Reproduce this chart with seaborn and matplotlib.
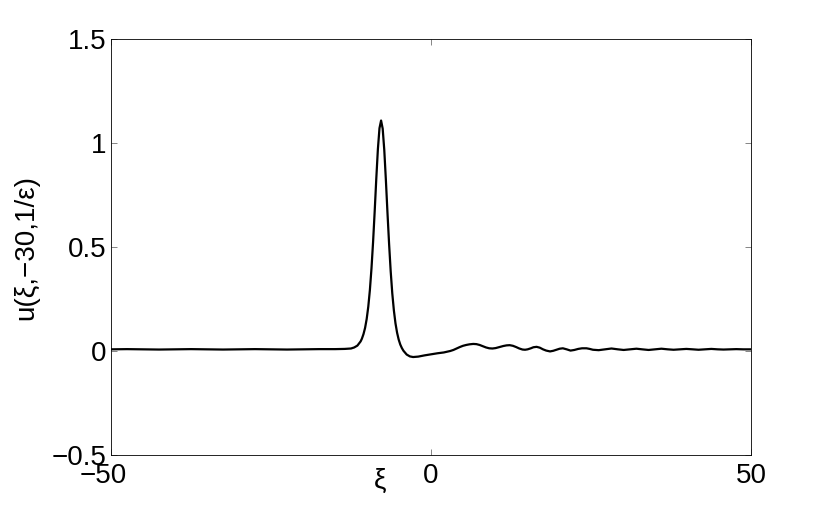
import matplotlib
matplotlib.use("Agg")
import matplotlib.pyplot as plt
import matplotlib.transforms as mtransforms
import seaborn as sns
import pandas as pd

# ---- data ----
xi = [-50, -47.5, -45, -42.5, -40, -37.5, -35, -32.5, -30, -27.5, -25, -22.5, -20,
      -17.5, -15, -13.5, -12.5, -12.0, -11.5, -11.0, -10.8, -10.55, -10.3, -10.05,
      -9.8, -9.55, -9.3, -9.05, -8.8, -8.55, -8.3, -8.05, -7.8, -7.55, -7.3, -7.05,
      -6.8, -6.55, -6.3, -6.05, -5.8, -5.55, -5.3, -5.05, -4.8, -4.55, -4.3, -3.8,
      -3.3, -2.8, -2.0, -1.0, 0.0, 1.0, 2.0, 3.0, 3.5, 4.0, 4.5, 5.0, 5.5, 6.0, 6.6,
      7.1, 7.6, 8.1, 8.6, 9.1, 9.6, 10.1, 10.7, 11.3, 11.8, 12.3, 12.8, 13.3, 13.8,
      14.3, 14.7, 15.1, 15.6, 16.0, 16.5, 17.0, 17.5, 18.0, 18.6, 19.1, 19.6, 20.1,
      20.6, 21.2, 21.8, 22.4, 23.0, 23.6, 24.3, 24.8, 25.3, 26.2, 27.2, 28.2, 29.2,
      30.1, 31.1, 32.1, 33.0, 34.0, 35.0, 36.0, 37.0, 37.9, 38.9, 39.9, 40.9, 41.8,
      42.8, 43.8, 44.8, 45.7, 46.7, 47.7, 48.8, 50.0]
u = [0.008, 0.009, 0.008, 0.007, 0.008, 0.009, 0.008, 0.007, 0.008, 0.009, 0.008,
     0.007, 0.008, 0.009, 0.009, 0.010, 0.012, 0.017, 0.026, 0.046, 0.059, 0.081,
     0.111, 0.154, 0.213, 0.293, 0.397, 0.524, 0.671, 0.828, 0.970, 1.071, 1.108,
     1.069, 0.966, 0.822, 0.664, 0.516, 0.384, 0.277, 0.195, 0.133, 0.088, 0.055,
     0.031, 0.014, 0.001, -0.017, -0.026, -0.029, -0.027, -0.021, -0.016, -0.011,
     -0.007, 0.000, 0.005, 0.012, 0.019, 0.025, 0.029, 0.032, 0.034,
     0.033, 0.029, 0.023, 0.017, 0.013, 0.012, 0.014, 0.019, 0.024, 0.027, 0.028,
     0.025, 0.019, 0.012, 0.007, 0.006, 0.008, 0.013, 0.018, 0.020, 0.016, 0.008,
     0.002, -0.002, 0.001, 0.006, 0.011, 0.013, 0.008, 0.002, 0.005, 0.010, 0.013,
     0.013, 0.010, 0.006, 0.004, 0.008, 0.012, 0.008, 0.005, 0.008, 0.011, 0.008,
     0.005, 0.008, 0.011, 0.008, 0.006, 0.008, 0.010, 0.008, 0.006, 0.008, 0.010,
     0.008, 0.007, 0.008, 0.009, 0.008, 0.008]

x_ticks = [-50, 0, 50]
x_tick_labels = ["\u221250", "0", "50"]
y_ticks = [-0.5, 0, 0.5, 1, 1.5]
y_tick_labels = ["\u22120.5", "0", "0.5", "1", "1.5"]
x_label = "\u03be"
y_label = "u(\u03be,\u221230,1/\u03b5)"

df = pd.DataFrame({"xi": xi, "u": u})

sns.set_theme(style="white")
plt.rcParams["font.family"] = ["Liberation Sans", "DejaVu Sans"]

fig = plt.figure(figsize=(8.3, 5.12), dpi=100)
ax = fig.add_axes([111 / 830, 1 - 455 / 512, 640 / 830, 416 / 512])

sns.lineplot(data=df, x="xi", y="u", color="black", linewidth=1.6, ax=ax,
             estimator=None, sort=False)

ax.set_xlim(-50, 50)
ax.set_ylim(-0.5, 1.5)
ax.set_xticks(x_ticks)
ax.set_xticklabels(x_tick_labels)
ax.set_yticks(y_ticks)
ax.set_yticklabels(y_tick_labels)

for side in ["top", "right", "bottom", "left"]:
    ax.spines[side].set_visible(True)
    ax.spines[side].set_color("black")
    ax.spines[side].set_linewidth(0.6)

ax.tick_params(axis="both", which="major", direction="in", length=4.5, width=0.5,
               color="#555555", labelsize=20, top=True, right=True,
               bottom=True, left=True, labelcolor="black")
ax.tick_params(axis="x", pad=6)
ax.tick_params(axis="y", pad=3)

ax.set_xlabel(x_label, fontsize=20, color="black")
ax.xaxis.set_label_coords((380 - 111) / 640, -0.03)
ax.set_ylabel(y_label, fontsize=20, color="black")
ax.yaxis.set_label_coords((39 - 111) / 640, 0.5)

# MATLAB-style: the minus sign hangs to the left of the centred number
lbl = ax.get_xticklabels()[0]
lbl.set_transform(lbl.get_transform() +
                  mtransforms.ScaledTranslation(-8 / 100, 0, fig.dpi_scale_trans))

ax.set_facecolor("white")
fig.patch.set_facecolor("white")
ax.grid(False)

fig.savefig("out.png", dpi=100, facecolor="white")
